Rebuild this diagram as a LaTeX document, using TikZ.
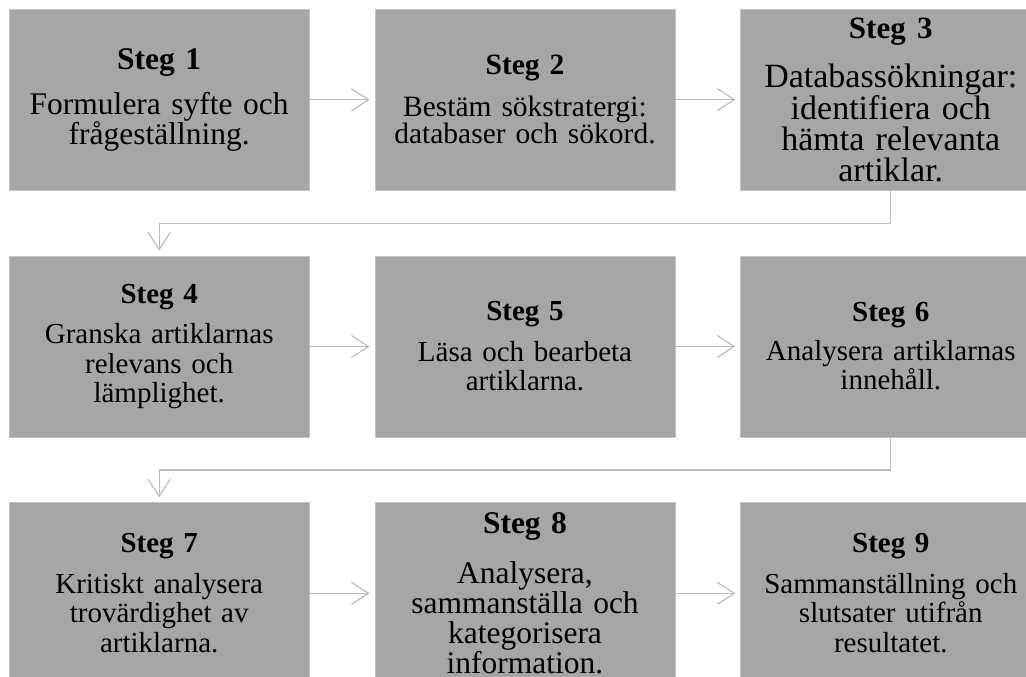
\documentclass[tikz,border=0pt]{standalone}
\usepackage{fontspec}
\setmainfont{Liberation Serif}
\usetikzlibrary{matrix}
\usetikzlibrary{calc}
\usetikzlibrary{arrows.meta}

\definecolor{boxfill}{HTML}{A6A6A6}
\definecolor{boxedge}{HTML}{C4C4C4}
\definecolor{linegray}{HTML}{BDBDBD}

\tikzset{
  stepbox/.style={fill=boxfill, draw=boxedge, line width=0.8pt,
    text width=290pt, align=center, minimum width=300pt,
    minimum height=181pt, inner sep=0pt, anchor=center,
    font=\fontsize{29}{29.5}\selectfont},
  narrow/.style={font=\fontsize{29.5}{27}\selectfont},
  wide/.style={font=\fontsize{31.5}{30}\selectfont},
  wider/.style={font=\fontsize{34}{31}\selectfont},
  link/.style={draw=linegray, line width=1.2pt, ->, shorten >=5pt}
}

\begin{document}
\begin{tikzpicture}[x=1pt,y=-1pt,>={Straight Barb[length=17pt,width=22pt]}]
        \useasboundingbox (0,0) rectangle (1026,677);
        \clip (0,0) rectangle (1026,677);
        \matrix (m) [matrix of nodes, nodes={stepbox}, column sep={65pt}, row sep={65pt}] at (525,346.5)
        {
                |[wide]| {{\bfseries Steg 1}\\[15pt]Formulera syfte och\\frågeställning.} &
                |[narrow]| {{\bfseries Steg 2}\\[15pt]Bestäm sökstratergi:\\databaser och sökord.} &
                |[wider]| {{\fontsize{31}{31}\selectfont\bfseries Steg 3}\\[18pt]Databassökningar:\\identifiera och\\hämta relevanta\\artiklar.} \\
                {{\bfseries Steg 4}\\[11pt]Granska artiklarnas\\relevans och\\lämplighet.} &
                {{\bfseries Steg 5}\\[11pt]Läsa och bearbeta\\artiklarna.} &
                {{\bfseries Steg 6}\\[9pt]Analysera artiklarnas\\innehåll.} \\
                {{\bfseries Steg 7}\\[11pt]Kritiskt analysera\\trovärdighet av\\artiklarna.} &
                |[wide]| {{\bfseries Steg 8}\\[20pt]Analysera,\\sammanställa och\\kategorisera\\information.} &
                {{\bfseries Steg 9}\\[11pt]Sammanställning och\\slutsater utifrån\\resultatet.} \\
        };
        \draw[link] (m-1-1) -- (m-1-2);
        \draw[link] (m-1-2) -- (m-1-3);
        \draw[link] (m-1-3.south) |- ($(m-1-3.south)!.5!(m-2-1.north)$) -| (m-2-1.north);
        \draw[link] (m-2-1) -- (m-2-2);
        \draw[link] (m-2-2) -- (m-2-3);
        \draw[link] (m-2-3.south) |- ($(m-2-3.south)!.5!(m-3-1.north)$) -| (m-3-1.north);
        \draw[link] (m-3-1) -- (m-3-2);
        \draw[link] (m-3-2) -- (m-3-3);
\end{tikzpicture}
\end{document}
